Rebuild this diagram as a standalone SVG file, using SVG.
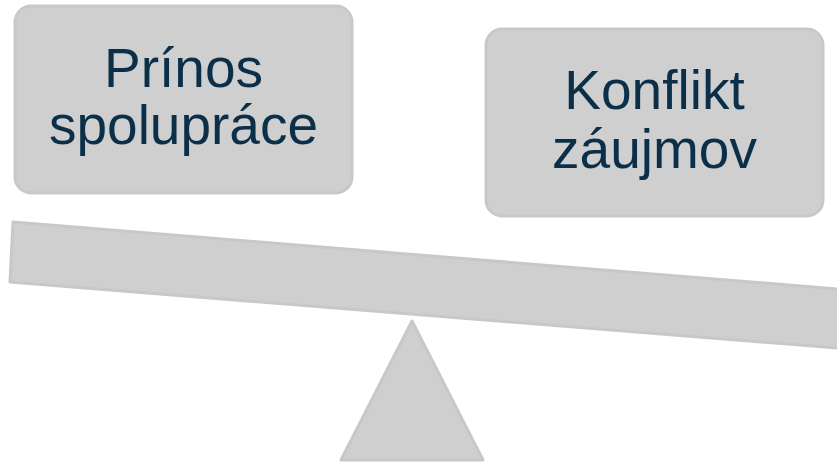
<svg xmlns="http://www.w3.org/2000/svg" width="837" height="463" viewBox="0 0 837 463">
<style>
.shape{fill:#cfcfcf;stroke:#c8c8c8;stroke-width:3;stroke-linejoin:round}
.lbl{font-family:"Liberation Sans",Arial,sans-serif;font-size:55px;fill:#0b2f48;text-anchor:middle}
</style>
<rect width="837" height="463" fill="#ffffff"/>
<g id="beam"><polygon class="shape" points="13,222 850,290 850,349 10,282"/></g>
<g id="fulcrum"><polygon class="shape" points="412,321 483,460 341,460"/></g>
<g id="node-prinos">
<rect class="shape" x="15" y="6" width="337" height="187" rx="16"/>
<text class="lbl" x="183.5" y="87">Prínos</text>
<text class="lbl" x="183.5" y="144">spolupráce</text>
</g>
<g id="node-konflikt">
<rect class="shape" x="486" y="29" width="337" height="187" rx="16"/>
<text class="lbl" x="654.5" y="109">Konflikt</text>
<text class="lbl" x="654.5" y="168">záujmov</text>
</g>
<g id="connectors"/>
</svg>
